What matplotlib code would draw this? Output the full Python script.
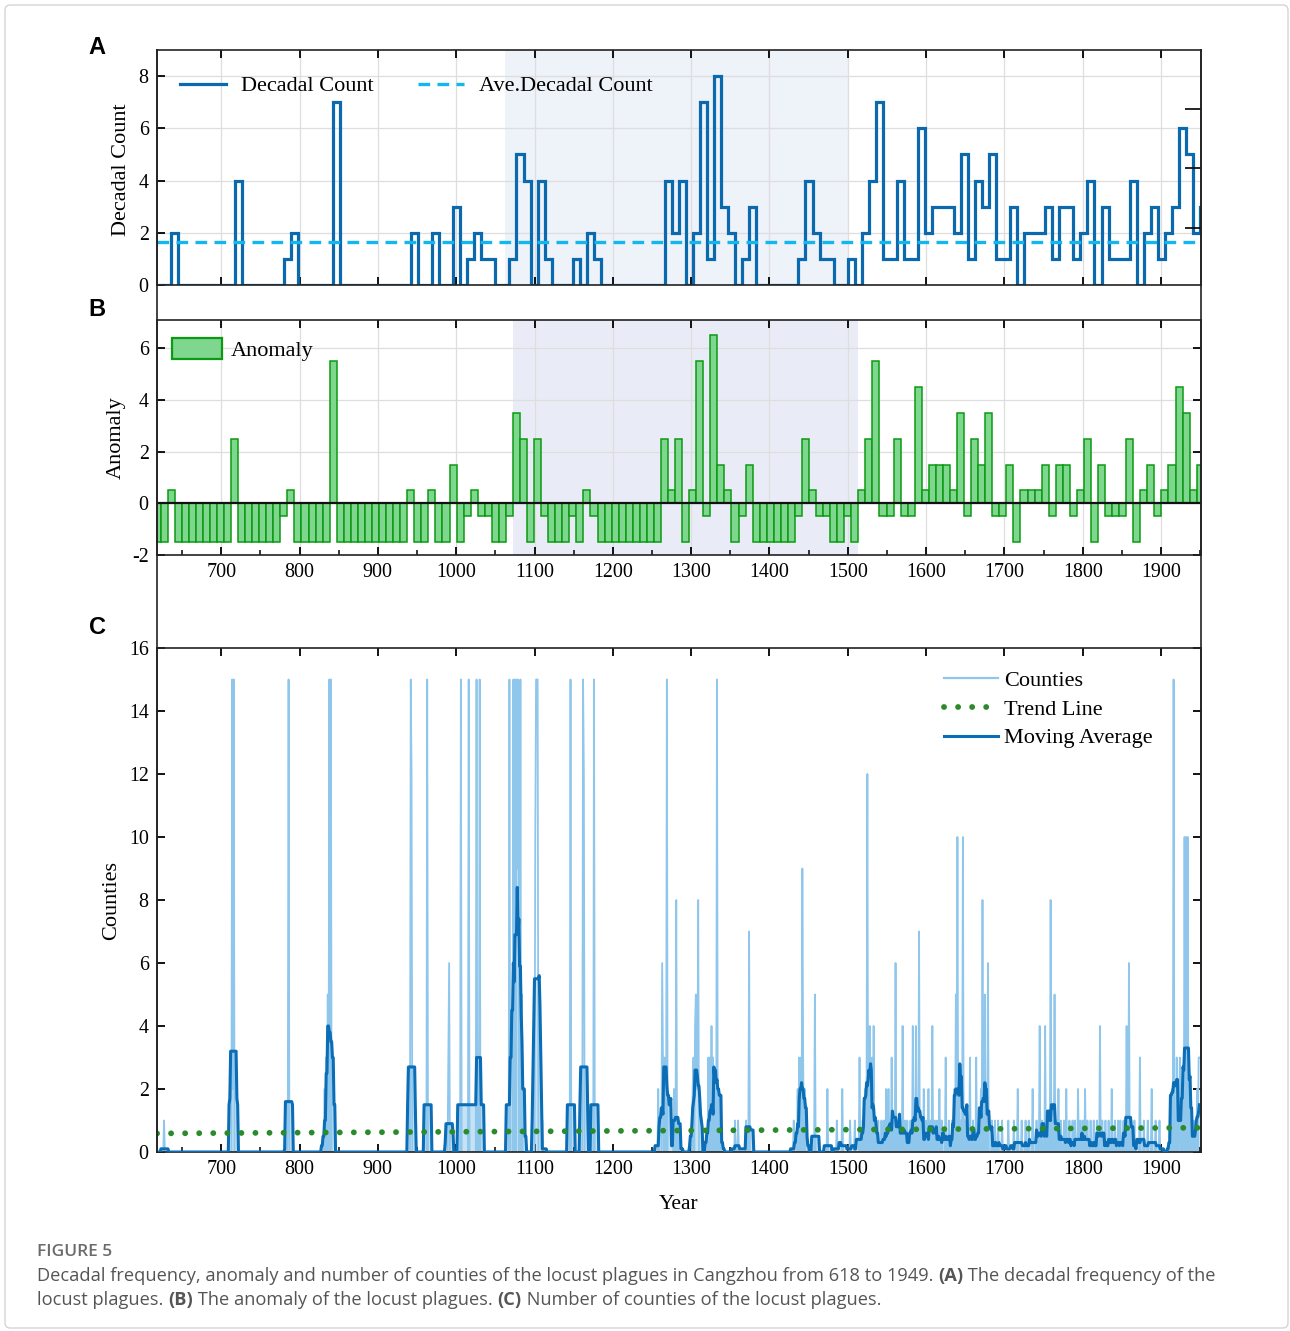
import numpy as np
import pandas as pd
import matplotlib
matplotlib.use('Agg')
import matplotlib.pyplot as plt
from matplotlib.ticker import MultipleLocator
from matplotlib.patches import Patch, FancyBboxPatch
from matplotlib.lines import Line2D

plt.rcParams['font.family'] = ['Liberation Serif', 'DejaVu Serif']
plt.rcParams['axes.unicode_minus'] = False

# ---- panel A / B : decadal counts, one bar every 9 years starting 618
bin_start = 618
bin_step = 9
decadal_count = [
    0, 0, 2, 0, 0, 0, 0, 0, 0, 0, 0, 4, 0, 0, 0, 0, 0, 0, 1, 2,
    0, 0, 0, 0, 0, 7, 0, 0, 0, 0, 0, 0, 0, 0, 0, 0, 2, 0, 0, 2,
    0, 0, 3, 0, 1, 2, 1, 1, 0, 0, 1, 5, 4, 0, 4, 1, 0, 0, 0, 1,
    0, 2, 1, 0, 0, 0, 0, 0, 0, 0, 0, 0, 4, 2, 4, 0, 2, 7, 1, 8,
    3, 2, 0, 1, 3, 0, 0, 0, 0, 0, 0, 1, 4, 2, 1, 1, 0, 0, 1, 0,
    2, 4, 7, 1, 1, 4, 1, 1, 6, 2, 3, 3, 3, 2, 5, 1, 4, 3, 5, 1,
    1, 3, 0, 2, 2, 2, 3, 1, 3, 3, 1, 2, 4, 0, 3, 1, 1, 1, 4, 0,
    2, 3, 1, 2, 3, 6, 5, 2, 3]
ave_decadal_count = 1.63
anomaly_base = 1.5
shade_a = (1062, 1500)
shade_b = (1072, 1513)

# ---- panel C : number of counties per year (years not listed are 0)
county_years = [
    627, 714, 715, 716, 785, 786, 832, 834, 836, 838, 840, 942, 943, 963, 990, 991,
    1006, 1016, 1026, 1030, 1068, 1073, 1075, 1077, 1078, 1079, 1082, 1084,
    1101, 1102, 1103, 1104, 1110, 1146, 1162, 1163, 1176,
    1258, 1263, 1264, 1266, 1269, 1278, 1281, 1284,
    1302, 1303, 1305, 1306, 1307, 1308, 1309,
    1322, 1324, 1326, 1328, 1330, 1333, 1335, 1337,
    1356, 1360, 1370, 1374, 1431, 1436, 1438, 1440, 1442, 1443, 1445,
    1458, 1474, 1486, 1493, 1503, 1509,
    1515, 1519, 1522, 1524, 1525, 1527, 1528, 1530, 1531, 1533, 1536, 1539,
    1543, 1546, 1549, 1552, 1554, 1556, 1558, 1561, 1564, 1567, 1570, 1573,
    1576, 1580, 1583, 1585, 1587, 1589, 1591, 1594, 1597,
    1600, 1603, 1606, 1608, 1611, 1614, 1617, 1620, 1625, 1629, 1633,
    1636, 1638, 1640, 1642, 1644, 1647, 1649, 1652, 1656, 1660, 1664,
    1668, 1670, 1672, 1675, 1677, 1679, 1684, 1688, 1692, 1697,
    1705, 1712, 1717, 1722, 1727, 1731, 1736,
    1741, 1745, 1748, 1752, 1756, 1759, 1762, 1764, 1767, 1769,
    1772, 1776, 1779, 1783, 1787, 1790, 1794, 1797,
    1800, 1803, 1806, 1810, 1814, 1818, 1822, 1825, 1829, 1833, 1837, 1841,
    1845, 1848, 1852, 1856, 1859, 1862, 1866,
    1873, 1878, 1883, 1888, 1893, 1898,
    1912, 1914, 1916, 1918, 1920, 1923, 1924, 1926, 1928, 1930, 1932, 1934,
    1936, 1938, 1941, 1944, 1946, 1948, 1949]
county_values = [
    1, 15, 2, 15, 1, 15, 2, 3, 5, 15, 15, 15, 12, 15, 3, 6,
    15, 15, 15, 15, 15, 15, 15, 15, 9, 15, 15, 5,
    10, 15, 15, 15, 1, 15, 15, 12, 15,
    2, 6, 3, 3, 15, 2, 8, 1,
    2, 3, 4, 5, 2, 2, 8,
    3, 3, 4, 3, 2, 15, 2, 1,
    1, 1, 1, 7, 1, 2, 3, 3, 9, 3, 2,
    5, 2, 1, 2, 1, 1,
    3, 1, 2, 2, 12, 1, 4, 2, 3, 4, 1, 1,
    1, 1, 2, 2, 1, 3, 1, 6, 1, 1, 4, 1,
    1, 1, 4, 1, 4, 1, 7, 1, 2,
    1, 2, 1, 4, 1, 1, 2, 1, 3, 1, 1,
    2, 5, 10, 2, 1, 10, 1, 1, 3, 1, 3,
    1, 2, 8, 5, 1, 6, 1, 1, 1, 1,
    1, 1, 2, 1, 1, 1, 2,
    1, 4, 1, 4, 1, 8, 1, 5, 1, 2,
    1, 1, 2, 1, 1, 1, 2, 1,
    1, 2, 1, 1, 1, 1, 4, 1, 1, 1, 2, 1,
    1, 1, 1, 4, 6, 1, 1,
    3, 1, 1, 2, 1, 1,
    1, 2, 15, 1, 3, 1, 3, 2, 1, 10, 10, 10,
    2, 1, 1, 1, 2, 3, 3]
ma_window = 10
trend_years = [618, 1949]
trend_values = [0.59, 0.77]

# colours
c_count = '#0b6aae'
c_ave = '#13b7ee'
c_bar = '#7fd68f'
c_bar_edge = '#0c9a12'
c_county = '#8ec6ec'
c_ma = '#0a6db5'
c_trend = '#2b8a2b'
c_grid = '#dedede'

W, H = 1290, 1331
fig = plt.figure(figsize=(W / 100, H / 100), dpi=100)


def fx(px):
    return px / W


def fy(py):
    return 1 - py / H


left, right = 157, 1201
axA = fig.add_axes([fx(left), fy(285), fx(right - left), (285 - 50) / H])
axB = fig.add_axes([fx(left), fy(555), fx(right - left), (555 - 320) / H])
axC = fig.add_axes([fx(left), fy(1152), fx(right - left), (1152 - 648) / H])

for ax in (axA, axB, axC):
    ax.set_xlim(618, 1951)
    ax.xaxis.set_major_locator(MultipleLocator(100))
    ax.tick_params(which='major', direction='in', length=6, width=1.3,
                   top=True, bottom=True, left=True, labelsize=14.4, pad=6)
    for s in ax.spines.values():
        s.set_linewidth(1.2)
        s.set_color('#222222')

x_bins = bin_start + bin_step * np.arange(len(decadal_count))
counts = np.array(decadal_count, dtype=float)

# ---------------- A
axA.axvspan(*shade_a, color='#eef2f9', zorder=0, lw=0)
axA.set_axisbelow(True)
axA.grid(True, color=c_grid, lw=0.9)
xs = np.append(x_bins, x_bins[-1] + bin_step)
ys = np.append(counts, counts[-1])
axA.step(xs, ys, where='post', color=c_count, lw=2.3, label='Decadal Count',
         solid_joinstyle='miter')
axA.axhline(ave_decadal_count, color=c_ave, lw=2.4, ls=(0, (3.5, 2.2)),
            label='Ave.Decadal Count')
axA.set_ylim(0, 9)
axA.yaxis.set_major_locator(MultipleLocator(2))
axA.tick_params(labelbottom=False, right=False)
axA.set_ylabel('Decadal Count', fontsize=16)
axA.yaxis.set_label_coords(-0.025, 0.49)
twA = axA.twinx()
twA.set_ylim(0, 9)
twA.set_yticks([2.2, 4.47, 6.73])
twA.tick_params(direction='in', length=11.5, width=1.2, labelright=False)
for s in twA.spines.values():
    s.set_visible(False)
axA.legend(loc='upper left', bbox_to_anchor=(0.022, 0.89), ncol=2, frameon=False,
           fontsize=16, handlelength=2.05, handletextpad=0.7, columnspacing=2.0,
           borderpad=0, borderaxespad=0)

# ---------------- B
anomaly = counts - anomaly_base
axB.axvspan(*shade_b, color='#e9ecf7', zorder=0, lw=0)
axB.set_axisbelow(True)
axB.grid(True, color=c_grid, lw=0.9)
axB.bar(x_bins, anomaly, width=bin_step, color=c_bar, edgecolor=c_bar_edge, lw=1.1,
        zorder=2)
axB.axhline(0, color='#111111', lw=1.6, zorder=3)
axB.set_ylim(-2, 7.1)
axB.yaxis.set_major_locator(MultipleLocator(2))
axB.xaxis.set_minor_locator(MultipleLocator(50))
axB.tick_params(which='major', right=True)
axB.tick_params(which='minor', direction='in', length=3.5, width=1.1, top=False)
axB.set_ylabel('Anomaly', fontsize=16)
axB.yaxis.set_label_coords(-0.0297, 0.498)
axB.legend(handles=[Patch(facecolor=c_bar, edgecolor=c_bar_edge, lw=1.6, label='Anomaly')],
           loc='upper left', bbox_to_anchor=(0.0144, 0.925), frameon=False, fontsize=16,
           handlelength=2.25, handleheight=1.1, handletextpad=0.4, borderpad=0,
           borderaxespad=0)

# ---------------- C
years = np.arange(618, 1950)
annual = pd.Series(0.0, index=years)
annual.loc[county_years] = county_values
ma = annual.rolling(ma_window, center=True, min_periods=1).mean()

axC.fill_between(years, ma.values, color=c_county, alpha=0.5, lw=0, zorder=1)
axC.plot(years, annual.values, color=c_county, lw=1.3, zorder=2, label='Counties')
axC.plot(years, ma.values, color=c_ma, lw=2.2, zorder=3, label='Moving Average')
trend_ls = (0, (0.01, 2.4))
axC.plot(trend_years, trend_values, color=c_trend, lw=4.2, ls=trend_ls,
         dash_capstyle='round', zorder=4, label='Trend Line')
axC.set_ylim(0, 16)
axC.yaxis.set_major_locator(MultipleLocator(2))
axC.xaxis.set_minor_locator(MultipleLocator(50))
axC.tick_params(which='major', right=True)
axC.tick_params(which='minor', direction='in', length=3.5, width=1.1, top=False)
axC.set_ylabel('Counties', fontsize=16)
axC.yaxis.set_label_coords(-0.0345, 0.5)
axC.set_xlabel('Year', fontsize=15.5)
axC.xaxis.set_label_coords(0.5, -0.085)
h = [Line2D([], [], color=c_county, lw=1.6),
     Line2D([], [], color=c_trend, lw=4.2, ls=trend_ls, dash_capstyle='round'),
     Line2D([], [], color=c_ma, lw=2.2)]
axC.legend(h, ['Counties', 'Trend Line', 'Moving Average'], loc='upper right',
           bbox_to_anchor=(0.954, 0.955), frameon=False, fontsize=16,
           handlelength=2.4, handletextpad=0.3, labelspacing=0.36, borderpad=0,
           borderaxespad=0)

# continuous side lines joining the three panels
for px in (left, right):
    fig.add_artist(Line2D([fx(px), fx(px)], [fy(50), fy(1152)], color='#222222',
                          lw=1.2, transform=fig.transFigure))

# panel letters
for letter, py in (('A', 48), ('B', 310), ('C', 627)):
    fig.text(fx(97), fy(py), letter, fontsize=17, fontweight='bold',
             family=['Liberation Sans', 'DejaVu Sans'], ha='center', va='center')

# outer frame
fig.add_artist(FancyBboxPatch((fx(5), fy(1328)), fx(1283), 1323 / H,
                              boxstyle='round,pad=0,rounding_size=0.004',
                              transform=fig.transFigure, fill=False,
                              edgecolor='#d4d4d4', lw=1.0))

# caption
cap_font = ['Open Sans', 'DejaVu Sans']
fig.text(fx(37), fy(1252), 'FIGURE 5', fontsize=12.5, color='#6b6b6b',
         family=cap_font, fontweight='semibold', va='center')
line1 = [('Decadal frequency, anomaly and number of counties of the locust plagues in '
          'Cangzhou from 618 to 1949. ', False), ('(A)', True),
         (' The decadal frequency of the', False)]
line2 = [('locust plagues. ', False), ('(B)', True),
         (' The anomaly of the locust plagues. ', False), ('(C)', True),
         (' Number of counties of the locust plagues.', False)]

renderer = fig.canvas.get_renderer()


def run_width(parts, size):
    w = 0
    for txt, bold in parts:
        t = fig.text(0, 0, txt, fontsize=size, family=cap_font,
                     fontweight='bold' if bold else 'normal')
        w += t.get_window_extent(renderer=renderer).width
        t.remove()
    return w


cap_size = 12 * 1178 / run_width(line1, 12)


def draw_run(parts, px, py):
    x = fx(px)
    for txt, bold in parts:
        t = fig.text(x, fy(py), txt, fontsize=cap_size, family=cap_font, color='#555555',
                     fontweight='bold' if bold else 'normal', va='center')
        x += t.get_window_extent(renderer=renderer).width / W


draw_run(line1, 37, 1276)
draw_run(line2, 37, 1300)

fig.savefig('out.png', dpi=100)
